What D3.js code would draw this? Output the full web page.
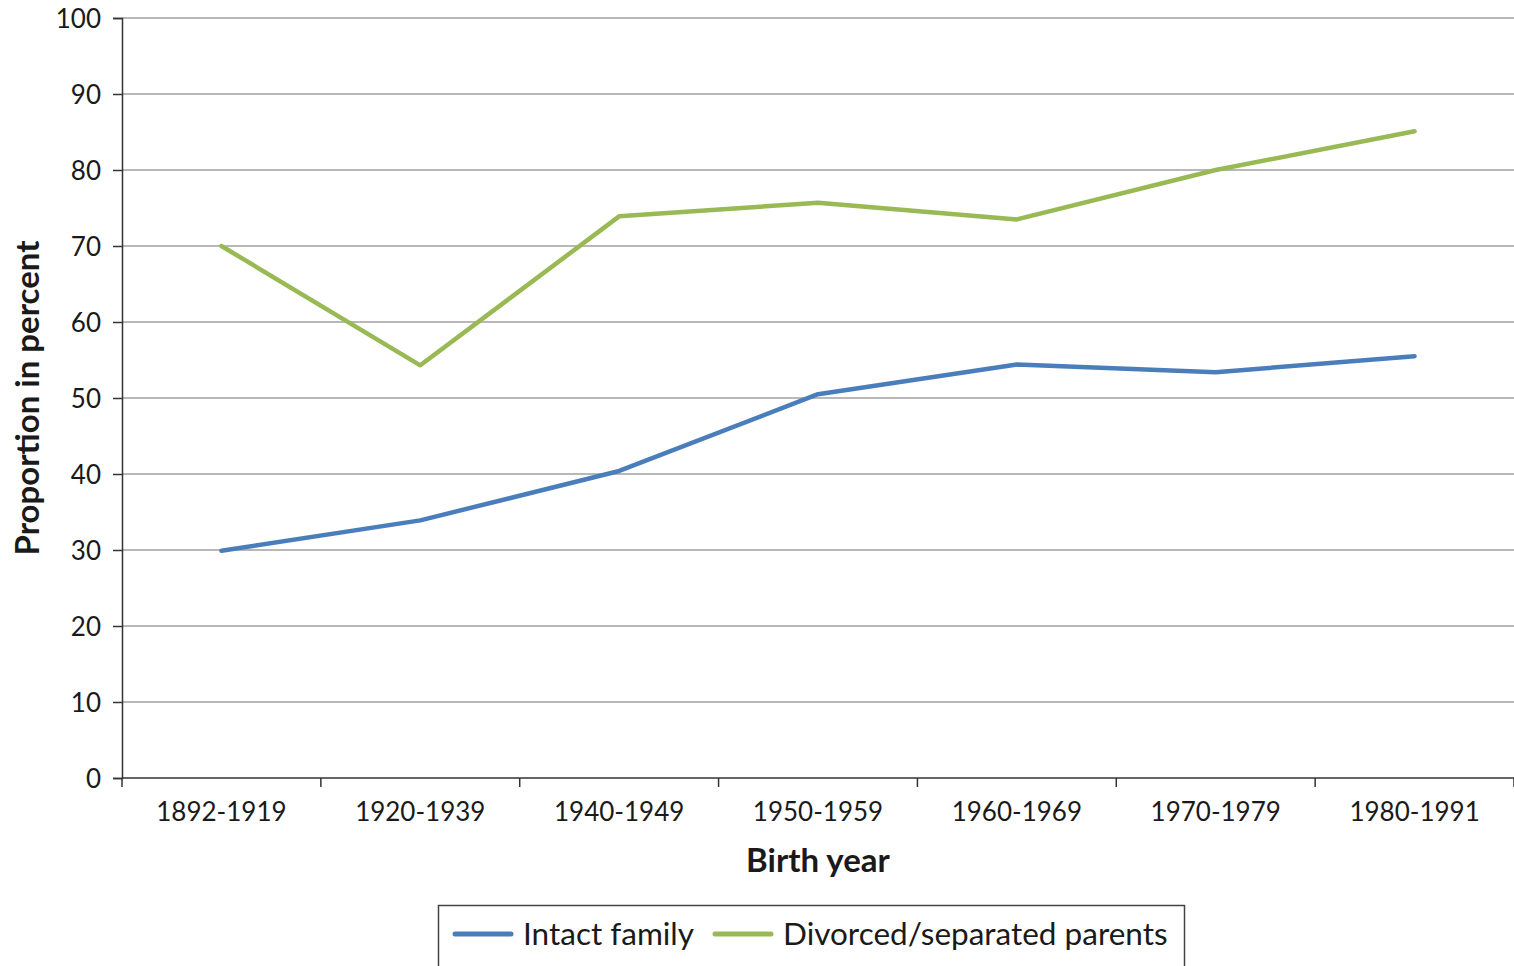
<!DOCTYPE html>
<html lang="en">
<head>
    <meta charset="UTF-8">
    <title>Proportion by birth year</title>
    <script src="https://d3js.org/d3.v7.min.js"></script>
    <style>
        body { margin: 0; background: #fff; }
        text { font-family: Lato, "Open Sans", sans-serif; fill: #1a1a1a; }
        .tick text { font-size: 26px; }
        .grid line { stroke: #a0a0a0; stroke-width: 1.3; }
        .axis path, .axis line { stroke: #333; stroke-width: 1.5; }
    </style>
</head>
<body>
    <script>
        // Data
        const categories = ["1892-1919", "1920-1939", "1940-1949", "1950-1959", "1960-1969", "1970-1979", "1980-1991"];
        const intactFamily = [29.9, 33.9, 40.4, 50.5, 54.4, 53.4, 55.5];
        const divorcedParents = [70.0, 54.3, 73.9, 75.7, 73.5, 80.0, 85.1];
        const yTicks = [0, 10, 20, 30, 40, 50, 60, 70, 80, 90, 100];

        const series = [
            { name: "Intact family", values: intactFamily, color: "#4a7ebb" },
            { name: "Divorced/separated parents", values: divorcedParents, color: "#98b954" }
        ];

        const width = 1514, height = 966;
        const margin = { left: 122, right: 0, top: 18, bottom: 188 };

        const svg = d3.select("body").append("svg")
            .attr("width", width)
            .attr("height", height);

        const x = d3.scaleBand()
            .domain(categories)
            .range([margin.left, width - margin.right]);

        const y = d3.scaleLinear()
            .domain([0, 100])
            .range([height - margin.bottom, margin.top]);

        // Gridlines
        svg.append("g")
            .attr("class", "grid")
            .selectAll("line")
            .data(yTicks.filter(d => d > 0))
            .join("line")
            .attr("x1", margin.left)
            .attr("x2", width - margin.right)
            .attr("y1", d => y(d))
            .attr("y2", d => y(d));

        // Y axis
        const yAxis = svg.append("g")
            .attr("class", "axis")
            .attr("transform", `translate(${margin.left},0)`)
            .call(d3.axisLeft(y).tickValues(yTicks).tickSize(9).tickPadding(12));
        yAxis.selectAll(".tick text").attr("dy", "0.38em");

        // X axis
        const xAxis = svg.append("g")
            .attr("class", "axis")
            .attr("transform", `translate(0,${y(0)})`)
            .call(d3.axisBottom(x).tickSize(0).tickPadding(25));
        xAxis.select(".domain").attr("d", `M${margin.left},0H${width - margin.right}`);
        xAxis.selectAll(".bound")
            .data(d3.range(categories.length + 1))
            .join("line")
            .attr("class", "bound")
            .attr("x1", i => margin.left + i * x.bandwidth())
            .attr("x2", i => margin.left + i * x.bandwidth())
            .attr("y1", 0)
            .attr("y2", 9);
        svg.selectAll(".axis .domain").attr("fill", "none");

        // Lines
        const line = d3.line()
            .x((d, i) => x(categories[i]) + x.bandwidth() / 2)
            .y(d => y(d));

        svg.selectAll(".series")
            .data(series)
            .join("path")
            .attr("class", "series")
            .attr("fill", "none")
            .attr("stroke", d => d.color)
            .attr("stroke-width", 4.5)
            .attr("stroke-linejoin", "round")
            .attr("stroke-linecap", "round")
            .attr("d", d => line(d.values));

        // Axis titles
        svg.append("text")
            .attr("x", x(categories[3]) + x.bandwidth() / 2)
            .attr("y", 872)
            .attr("text-anchor", "middle")
            .attr("font-size", 33)
            .attr("font-weight", "bold")
            .text("Birth year");

        svg.append("text")
            .attr("transform", `translate(39,${y(50)}) rotate(-90)`)
            .attr("text-anchor", "middle")
            .attr("font-size", 33)
            .attr("font-weight", "bold")
            .text("Proportion in percent");

        // Legend
        const legend = svg.append("g");
        legend.append("rect")
            .attr("x", 438.5)
            .attr("y", 905.5)
            .attr("width", 746)
            .attr("height", 80)
            .attr("fill", "#fff")
            .attr("stroke", "#444")
            .attr("stroke-width", 1.5);

        const legendX = [455, 715];
        const items = legend.selectAll(".item")
            .data(series)
            .join("g")
            .attr("class", "item")
            .attr("transform", (d, i) => `translate(${legendX[i]},934)`);
        items.append("line")
            .attr("x1", 0).attr("x2", 56)
            .attr("stroke", d => d.color)
            .attr("stroke-width", 5)
            .attr("stroke-linecap", "round");
        items.append("text")
            .attr("x", 68)
            .attr("dy", "0.35em")
            .attr("font-size", 31.5)
            .text(d => d.name);
    </script>
</body>
</html>
